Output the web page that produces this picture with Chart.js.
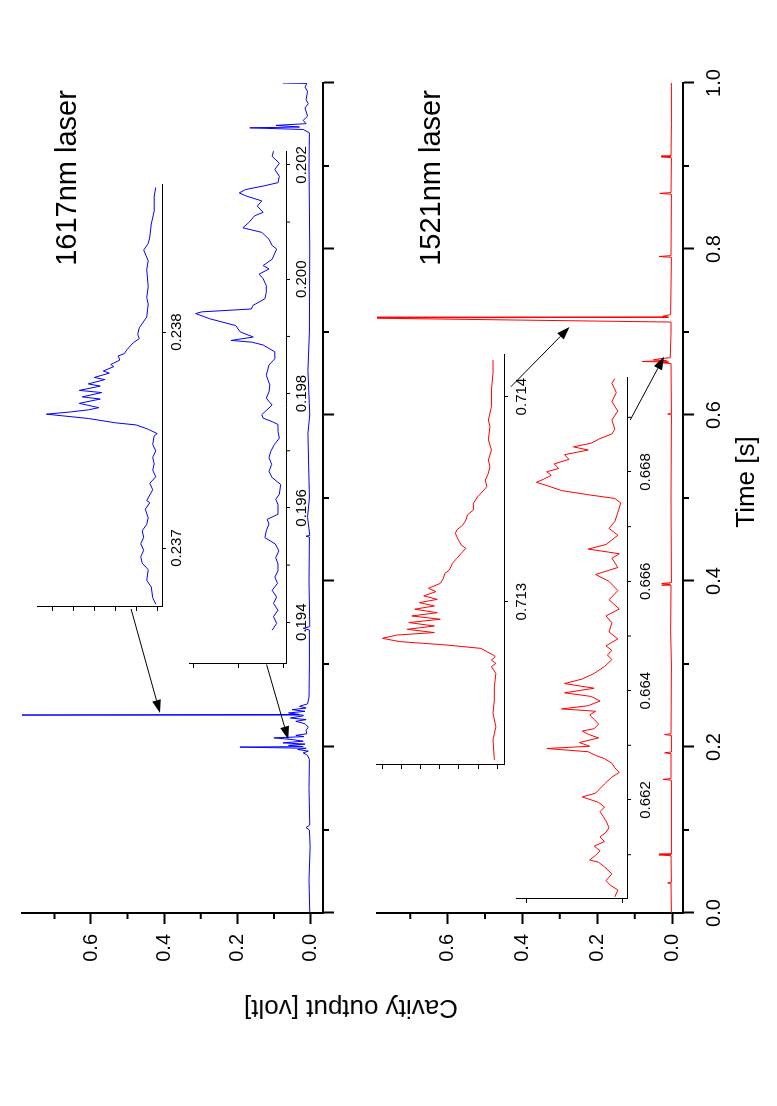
<!DOCTYPE html>
<html>
<head>
<meta charset="utf-8">
<script src="https://cdn.jsdelivr.net/npm/chart.js@4/dist/chart.umd.min.js"></script>
<style>
body{margin:0;background:#fff;width:777px;height:1106px;overflow:hidden;font-family:"Liberation Sans",Arial,sans-serif}
#fig{position:absolute;left:0;top:0;width:1106px;height:777px;transform-origin:0 0;transform:translate(0,1106px) rotate(-90deg)}
#fig canvas{position:absolute}
.lbl{position:absolute;white-space:nowrap;color:#000;transform:translate(-50%,-50%);line-height:1}
</style>
</head>
<body>
<div id="fig">
  <canvas id="topPanel" width="960" height="345" style="left:100px;top:0px"></canvas>
  <canvas id="botPanel" width="960" height="390" style="left:100px;top:355px"></canvas>
  <canvas id="inset194" width="529" height="146" style="left:434px;top:170px"></canvas>
  <canvas id="inset237" width="435" height="172" style="left:491px;top:18px"></canvas>
  <canvas id="inset713" width="423" height="177" style="left:333px;top:357px"></canvas>
  <canvas id="inset662" width="534" height="162" style="left:199px;top:497px"></canvas>
  <div class="lbl" style="left:928px;top:66px;font-size:29px">1617nm laser</div>
  <div class="lbl" style="left:928px;top:430px;font-size:29px">1521nm laser</div>
  <div class="lbl" style="left:624px;top:745px;font-size:26px">Time [s]</div>
  <div class="lbl" style="left:97px;top:351px;font-size:26px;transform:translate(-50%,-50%) rotate(-90deg)">Cavity output [volt]</div>
</div>
<script>
// main traces (time in s, output in volt)
const blueT = [0,0.04,0.08,0.1,0.103,0.106,0.15,0.185,0.19,0.193,0.195,0.197,0.1985,0.1999,0.2005,0.202,0.2035,0.205,0.207,0.209,0.211,0.2125,0.214,0.216,0.22,0.224,0.228,0.231,0.233,0.235,0.2375,0.2385,0.2392,0.241,0.243,0.245,0.247,0.249,0.252,0.26,0.3,0.341,0.343,0.345,0.4,0.453,0.454,0.455,0.477,0.5,0.578,0.6,0.654,0.7,0.8,0.9,0.94,0.944,0.946,0.947,0.949,0.951,0.955,0.96,0.97,0.975,0.98,0.99,0.995,0.9995,1.0];
const blueV = [0.002,0.004,0.001,0.003,0.012,0.002,0.004,0.003,0.008,0.02,0.006,0.035,0.012,0.193,0.02,0.06,0.015,0.075,0.02,0.05,0.1,0.018,0.04,0.01,0.012,0.006,0.015,0.04,0.012,0.055,0.02,0.85,0.03,0.06,0.015,0.05,0.012,0.03,0.008,0.004,0.003,0.003,0.02,0.002,0.004,0.003,0.012,0.002,0.008,0.003,0.007,0.002,0.007,0.003,0.002,0.004,0.003,0.02,0.166,0.03,0.094,0.012,0.02,0.008,0.015,0.006,0.012,0.008,0.015,0.01,0.076];
const redT = [0,0.035,0.036,0.037,0.069,0.07,0.071,0.16,0.161,0.162,0.192,0.193,0.194,0.214,0.215,0.216,0.3,0.34,0.394,0.395,0.396,0.397,0.398,0.5,0.6,0.601,0.602,0.662,0.663,0.6637,0.6645,0.6655,0.6665,0.668,0.669,0.7,0.712,0.717,0.7178,0.719,0.721,0.79,0.791,0.792,0.866,0.867,0.868,0.91,0.911,0.912,0.95,1.0];
const redV = [0.002,0.003,0.012,0.002,0.003,0.035,0.002,0.002,0.024,0.003,0.003,0.02,0.002,0.002,0.02,0.003,0.002,0.004,0.003,0.028,0.005,0.028,0.002,0.003,0.002,0.012,0.002,0.003,0.03,0.01,0.08,0.015,0.05,0.03,0.005,0.003,0.003,0.85,0.01,0.025,0.004,0.002,0.035,0.003,0.002,0.033,0.003,0.002,0.029,0.003,0.002,0.002];

// zoomed insets (time in s, arbitrary units)
const in194T = [0.19386,0.19398,0.19410,0.19421,0.19433,0.19444,0.19456,0.19468,0.19479,0.19490,0.19502,0.19513,0.19525,0.19537,0.19548,0.19560,0.19572,0.19580,0.19589,0.19606,0.19615,0.19624,0.19641,0.19653,0.19664,0.19676,0.19688,0.19699,0.19711,0.19722,0.19734,0.19746,0.19751,0.19757,0.19763,0.19769,0.19780,0.19792,0.19803,0.19815,0.19832,0.19850,0.19861,0.19873,0.19885,0.19890,0.19893,0.19899,0.19908,0.19919,0.19931,0.19940,0.19943,0.19948,0.19954,0.19966,0.19977,0.19989,0.20001,0.20009,0.20018,0.20024,0.20035,0.20053,0.20059,0.20070,0.20082,0.20090,0.20099,0.20111,0.20117,0.20128,0.20137,0.20146,0.20151,0.20157,0.20163,0.20169,0.20180,0.20192,0.20203,0.20215,0.20224];
const in194V = [0.25,0.15,0.22,0.12,0.22,0.15,0.25,0.13,0.19,0.12,0.12,0.17,0.10,0.18,0.41,0.38,0.32,0.36,0.12,0.12,0.17,0.09,0.06,0.25,0.32,0.26,0.32,0.28,0.20,0.09,0.12,0.12,0.25,0.45,0.48,0.40,0.25,0.38,0.32,0.30,0.38,0.32,0.19,0.19,0.45,0.70,1.16,0.67,0.96,1.06,1.64,1.95,1.81,0.71,0.68,0.41,0.38,0.38,0.45,0.54,0.32,0.45,0.25,0.15,0.25,0.32,0.48,0.90,0.77,0.64,0.45,0.58,0.48,0.84,0.98,0.84,0.45,0.12,0.09,0.19,0.09,0.25,0.22];
const in237T = [0.23674,0.23677,0.23682,0.23685,0.23690,0.23693,0.23696,0.23699,0.23702,0.23705,0.23708,0.23711,0.23714,0.23718,0.23721,0.23722,0.23727,0.23730,0.23733,0.23736,0.23739,0.23742,0.23745,0.23748,0.23752,0.23753,0.23755,0.23757,0.23758,0.23760,0.23762,0.23763,0.23764,0.23765,0.23767,0.23769,0.23770,0.23772,0.23773,0.23775,0.23776,0.23778,0.23779,0.23781,0.23782,0.23784,0.23785,0.23787,0.23789,0.23790,0.23792,0.23795,0.23797,0.23799,0.23802,0.23807,0.23813,0.23816,0.23821,0.23829,0.23833,0.23838,0.23841,0.23844,0.23850,0.23856,0.23863,0.23867];
const in237V = [0.14,0.43,0.57,1.0,0.86,1.43,1.57,1.29,1.57,1.29,1.43,1.0,0.86,1.14,0.71,1.0,0.43,0.71,0.14,0.43,0.29,0.43,0.14,0.43,0.29,0,0.86,2.0,4.0,6.57,10.57,8.29,6.57,5.57,7.43,5.43,7.14,5.29,7.43,5.43,6.57,5.0,6.0,4.57,5.14,4.14,4.43,3.57,3.71,3.14,2.86,2.29,1.71,1.86,1.71,1.0,0.86,1.0,0.86,1.0,0.86,1.29,0.86,0.71,0.57,0.29,0.29,0.14];
const in713T = [0.712228,0.712325,0.71239,0.712455,0.71252,0.712585,0.71265,0.712683,0.712699,0.712715,0.712732,0.71274,0.712756,0.712772,0.712789,0.712805,0.712821,0.712837,0.712849,0.712865,0.712881,0.712898,0.712914,0.71293,0.712946,0.712963,0.712979,0.712995,0.713011,0.713028,0.713049,0.713065,0.713089,0.713114,0.713138,0.713154,0.713187,0.713211,0.713236,0.71326,0.713276,0.713301,0.713333,0.71335,0.713374,0.713398,0.713423,0.713447,0.71348,0.713512,0.713545,0.713561,0.713593,0.713626,0.713659,0.713691,0.71374,0.713789,0.713854,0.713886,0.713951,0.714033,0.714114,0.714179];
const in713V = [0.16,0.23,0.08,0.23,0.16,0.16,0.08,0.31,0.08,0.31,0.11,0.23,0.55,0.86,2.73,5.08,5.98,5.23,3.28,4.69,3.28,4.61,2.97,4.45,3.13,4.30,3.28,4.06,3.13,3.83,3.20,3.59,2.97,2.81,2.73,2.50,2.34,2.11,1.88,1.64,1.88,2.03,2.19,2.11,1.80,1.64,1.56,1.25,1.25,1.02,0.70,0.55,0.63,0.47,0.39,0.47,0.31,0.47,0.39,0.47,0.31,0.31,0.23,0.23];
const in662T = [0.660229,0.660356,0.66044,0.660524,0.66065,0.660777,0.660861,0.660903,0.660987,0.661072,0.661156,0.66124,0.661324,0.661409,0.661493,0.661619,0.661703,0.661788,0.661872,0.661956,0.662057,0.662125,0.662209,0.662293,0.66242,0.662504,0.662588,0.662672,0.662757,0.662816,0.662883,0.662942,0.662984,0.663051,0.663136,0.663203,0.663262,0.663304,0.663388,0.663473,0.663557,0.663624,0.663666,0.663725,0.66381,0.663894,0.663961,0.664045,0.66413,0.664214,0.664315,0.664441,0.664568,0.664652,0.664736,0.66482,0.664947,0.665073,0.665242,0.665368,0.665494,0.665663,0.665831,0.666,0.666126,0.666253,0.666421,0.666505,0.66659,0.666674,0.666758,0.666842,0.666969,0.667095,0.667264,0.667432,0.667516,0.667584,0.66766,0.667752,0.667811,0.66787,0.667938,0.668005,0.668064,0.668148,0.668232,0.668317,0.668401,0.66846,0.668527,0.668612,0.668696,0.66878,0.668949,0.669117,0.669286,0.669454,0.669623,0.669707];
const in662V = [0.077,0.046,0.123,0.169,0.108,0.185,0.246,0.338,0.277,0.231,0.292,0.185,0.231,0.169,0.138,0.169,0.2,0.231,0.185,0.246,0.415,0.277,0.231,0.185,0.108,0.031,0.077,0.108,0.185,0.277,0.354,0.784,0.338,0.446,0.246,0.354,0.415,0.292,0.246,0.292,0.338,0.277,0.63,0.354,0.231,0.323,0.6,0.292,0.6,0.415,0.292,0.185,0.108,0.154,0.108,0.169,0.046,0.138,0.108,0.169,0.031,0.138,0.046,0.138,0.277,0.046,0.108,0.031,0.354,0.169,0.108,0.046,0.138,0.077,0.046,0.015,0.077,0.354,0.63,0.784,0.892,0.815,0.738,0.784,0.661,0.707,0.554,0.6,0.354,0.507,0.323,0.231,0.108,0.077,0.108,0.046,0.108,0.062,0.108,0.077];

// tick values
const timeMajor = [0,0.2,0.4,0.6,0.8,1.0];
const timeMinor = [0.1,0.3,0.5,0.7,0.9];
const voltMajor = [0,0.2,0.4,0.6];
const voltMinor = [0.1,0.3,0.5,0.7];
const t194Major = [0.194,0.196,0.198,0.200,0.202];
const t194Minor = [0.195,0.197,0.199,0.201];
const t237Major = [0.237,0.238];
const t713Major = [0.713,0.714];
const t662Major = [0.662,0.664,0.666,0.668];
const t662Minor = [0.661,0.663,0.665,0.667,0.669];

Chart.defaults.font.family = '"Liberation Sans", Arial, sans-serif';
Chart.defaults.color = '#000';

const pts = (T, V) => T.map((t, i) => ({x: t, y: V[i]}));

// minor ticks and arrows
const extras = {
  id: 'extras',
  afterDraw(chart, args, o) {
    const ctx = chart.ctx, a = chart.chartArea, xs = chart.scales.x, ys = chart.scales.y;
    ctx.save();
    ctx.strokeStyle = '#000';
    ctx.fillStyle = '#000';
    ctx.lineWidth = o.tw || 1;
    ctx.beginPath();
    (o.xMinor || []).forEach(v => { const p = xs.getPixelForValue(v); ctx.moveTo(p, a.bottom); ctx.lineTo(p, a.bottom + o.len); });
    (o.yMinor || []).forEach(v => { const p = ys.getPixelForValue(v); ctx.moveTo(a.left, p); ctx.lineTo(a.left - o.len, p); });
    ctx.stroke();
    ctx.lineWidth = 1;
    (o.arrows || []).forEach(([t0, v0, t1, v1]) => {
      const x0 = xs.getPixelForValue(t0), y0 = ys.getPixelForValue(v0);
      const x1 = xs.getPixelForValue(t1), y1 = ys.getPixelForValue(v1);
      const ang = Math.atan2(y1 - y0, x1 - x0), L = 13, W = 4.5;
      ctx.beginPath(); ctx.moveTo(x0, y0); ctx.lineTo(x1 - L * Math.cos(ang), y1 - L * Math.sin(ang)); ctx.stroke();
      ctx.beginPath();
      ctx.moveTo(x1, y1);
      ctx.lineTo(x1 - L * Math.cos(ang) + W * Math.sin(ang), y1 - L * Math.sin(ang) - W * Math.cos(ang));
      ctx.lineTo(x1 - L * Math.cos(ang) - W * Math.sin(ang), y1 - L * Math.sin(ang) + W * Math.cos(ang));
      ctx.closePath(); ctx.fill();
    });
    ctx.restore();
  }
};

function plot(id, o) {
  return new Chart(document.getElementById(id), {
    type: 'line',
    data: {datasets: [{data: o.data, borderColor: o.color, borderWidth: 1, pointRadius: 0, tension: 0, fill: false}]},
    options: {
      responsive: false, animation: false, events: [],
      layout: {padding: o.pad},
      plugins: {legend: {display: false}, tooltip: {enabled: false},
        extras: {xMinor: o.xMinor, yMinor: o.yMinor, len: o.minLen, tw: o.tw, arrows: o.arrows}},
      scales: {
        x: {type: 'linear', min: o.xr[0], max: o.xr[1],
          afterBuildTicks: s => { s.ticks = o.xTicks.map(v => ({value: v})); },
          afterFit: s => { s.height = o.xH; },
          ticks: {autoSkip: false, maxRotation: 0, padding: o.xPad, font: {size: o.fs},
            callback: v => o.xFmt ? v.toFixed(o.xFmt) : ''},
          grid: {drawOnChartArea: false, drawTicks: true, tickLength: o.tl, tickWidth: o.tw, tickColor: '#000'},
          border: {display: true, color: '#000', width: o.tw}},
        y: {type: 'linear', min: o.yr[0], max: o.yr[1],
          afterBuildTicks: s => { s.ticks = o.yTicks.map(v => ({value: v})); },
          afterFit: s => { s.width = o.yW; },
          ticks: {padding: 10, font: {size: o.fs}, callback: v => o.yFmt ? v.toFixed(o.yFmt) : ''},
          grid: {drawOnChartArea: false, drawTicks: true, tickLength: o.tl, tickWidth: o.tw, tickColor: '#000'},
          border: {display: true, color: '#000', width: o.tw}}
      }
    },
    plugins: [extras]
  });
}

// 1617nm panel
plot('topPanel', {data: pts(blueT, blueV), color: '#0000ff', pad: {top: 10, right: 37, left: 0, bottom: 0},
  xr: [0, 1], yr: [-0.0342, 0.7886], xTicks: timeMajor, yTicks: voltMajor, xMinor: timeMinor, yMinor: voltMinor,
  xH: 15, yW: 93, tl: 11, minLen: 6, tw: 2, fs: 20, xPad: 8, yFmt: 1,
  arrows: [[0.3663, 0.4904, 0.2410, 0.4114], [0.2994, 0.120, 0.2092, 0.061]]});

// 1521nm panel
plot('botPanel', {data: pts(redT, redV), color: '#ff0000', pad: {top: 10, right: 37, left: 0, bottom: 0},
  xr: [0, 1], yr: [-0.029, 0.7886], xTicks: timeMajor, yTicks: voltMajor, xMinor: timeMinor, yMinor: voltMinor,
  xH: 62, yW: 93, tl: 11, minLen: 6, tw: 2, fs: 20, xPad: 8, xFmt: 1, yFmt: 1,
  arrows: [[0.634, 0.431, 0.706, 0.274], [0.594, 0.112, 0.6702, 0.0216]]});

// insets
plot('inset194', {data: pts(in194T, in194V), color: '#0000ff', pad: {top: 5, right: 5, left: 0, bottom: 0},
  xr: [0.19327, 0.202243], yr: [-0.058, 2.097], xTicks: t194Major, yTicks: [0, 1, 2], xMinor: t194Minor,
  xH: 30, yW: 8, tl: 4, minLen: 4, tw: 1, fs: 15, xPad: 3, xFmt: 3});
plot('inset237', {data: pts(in237T, in237V), color: '#0000ff', pad: {top: 5, right: 5, left: 0, bottom: 0},
  xr: [0.236727, 0.238681], yr: [-0.454, 11.46], xTicks: t237Major, yTicks: [0,1,2,3,4,5,6,7,8,9,10,11],
  xH: 28, yW: 8, tl: 4, minLen: 4, tw: 1, fs: 15, xPad: 2, xFmt: 3});
plot('inset713', {data: pts(in713T, in713V), color: '#ff0000', pad: {top: 5, right: 5, left: 0, bottom: 0},
  xr: [0.712203, 0.714203], yr: [-0.342, 6.315], xTicks: t713Major, yTicks: [0,1,2,3,4,5,6],
  xH: 30, yW: 8, tl: 4, minLen: 4, tw: 1, fs: 15, xPad: 5, xFmt: 3});
plot('inset662', {data: pts(in662T, in662V), color: '#ff0000', pad: {top: 5, right: 5, left: 0, bottom: 0},
  xr: [0.660189, 0.669719], yr: [-0.049, 1.104], xTicks: t662Major, yTicks: [0, 1], xMinor: t662Minor,
  xH: 32, yW: 8, tl: 4, minLen: 4, tw: 1, fs: 15, xPad: 6, xFmt: 3});
</script>
</body>
</html>
